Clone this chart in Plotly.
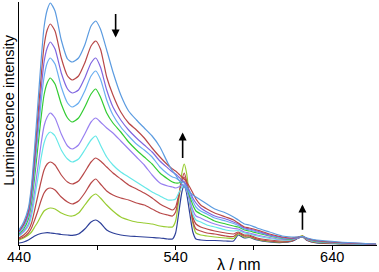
import plotly.graph_objects as go

wavelength = [440, 443, 446, 448, 450, 452, 454, 456, 458, 460, 463, 467, 471, 474, 478, 482, 486, 489,
              492, 496, 500, 505, 510, 515, 520, 525, 530, 535,
              538, 540, 542, 544, 545.5, 547, 549, 551, 553, 556, 560,
              565, 572, 577, 580, 584, 587, 592, 600, 608, 614, 618, 621, 624, 630, 645, 668]

s1 = [15, 23, 37, 60, 98, 140, 182, 218, 235, 242, 234, 205, 186, 183, 187, 200, 219, 224,
      216, 195, 173, 150, 134, 125, 117, 109, 98, 82,
      74, 70, 65, 61, 58, 56, 53, 50, 48, 45, 41,
      36, 32, 28, 25, 21, 20, 17, 13, 9, 8, 8, 8.5, 7, 5, 3, 1]
s2 = [14, 21, 34, 55, 89, 128, 166, 199, 215, 221, 214, 187, 169, 165, 169, 182, 199, 204,
      196, 168, 150, 133, 122, 115, 107, 97, 88, 80,
      76, 74, 71, 68, 66, 63, 58, 52, 46, 40, 36,
      32, 28, 25, 22, 18, 17, 15, 11, 8, 7, 8, 8.5, 6.5, 4.5, 2.5, 0.8]
s3 = [13, 20, 31, 51, 82, 118, 153, 183, 197, 203, 196, 172, 156, 152, 155, 167, 182, 187,
      178, 155, 138, 125, 115, 107, 100, 93, 84, 77,
      73, 71, 68, 65, 63, 60, 54, 47, 42, 37, 33,
      29, 26, 23, 21, 17, 16, 14, 10, 7.5, 6.5, 7.5, 8.5, 6.5, 4, 2.3, 0.8]
s4 = [12, 18, 29, 47, 76, 108, 141, 168, 182, 187, 181, 158, 142, 138, 142, 154, 169, 174,
      166, 145, 130, 118, 109, 101, 95, 88, 78, 71,
      68, 67, 65, 63, 62, 58, 51, 44, 38, 34, 31,
      27, 24, 21.5, 19.5, 16, 15, 13, 9.5, 7, 6.5, 7.5, 8.5, 6, 4, 2.2, 0.7]
s5 = [11, 16, 26, 42, 68, 97, 126, 150, 162, 167, 161, 141, 127, 123, 127, 138, 151, 156,
      148, 132, 122, 113, 103, 95, 88, 81, 72, 66,
      63, 62, 62, 63, 63, 58, 49, 40, 34, 31, 28,
      24, 21, 19, 18, 15, 14, 12, 9, 6.5, 6, 7.5, 8.5, 6, 3.5, 2, 0.7]
s6 = [10, 14, 21, 34, 54, 77, 100, 119, 128, 132, 127, 111, 99, 96, 100, 111, 123, 127,
      123, 117, 112, 104, 96, 88, 80, 70, 62, 59,
      58, 57, 58, 60, 60, 55, 45, 35, 29, 27, 24,
      21, 18, 16.5, 16, 13, 12, 10, 7.5, 5.5, 5.5, 7, 8.5, 5.5, 3.5, 1.8, 0.6]
s7 = [9, 13, 19, 29, 47, 66, 86, 102, 110, 113, 109, 95, 86, 83, 86, 95, 105, 109,
      100, 88, 80, 73, 68, 63, 58, 53, 49, 45,
      45, 46, 52, 58, 60, 55, 43, 31, 25, 23, 20,
      18, 15, 14, 14.5, 12, 11, 9, 6.5, 5, 5, 7, 8.5, 5.5, 3, 1.7, 0.6]
s8 = [7, 10, 15, 22, 35, 49, 63, 75, 81, 83, 80, 70, 63, 61, 64, 73, 83, 87,
      84, 78, 72, 66, 60, 56, 52, 47, 41, 37,
      35, 38, 50, 63, 68, 62, 45, 28, 21, 18, 16,
      14, 12, 11, 13, 10, 10, 7, 5, 4, 4.5, 7, 8.5, 5, 3, 1.5, 0.5]
s9 = [6, 8, 12, 17, 25, 34, 44, 52, 56, 57, 55, 48, 43, 41, 44, 52, 62, 66,
      61, 54, 50, 47, 45, 42, 40, 36, 32, 30,
      29, 33, 48, 65, 72, 64, 44, 24, 16, 14, 12,
      11, 9, 8.5, 12, 9, 9, 6, 4, 3, 4, 7, 9, 5, 2.5, 1.4, 0.5]
s10 = [5, 7, 10, 13, 18, 23, 29, 34, 36, 37, 36, 32, 29.5, 29, 32, 40, 48, 51,
       47, 40, 34, 28, 25, 23, 22, 21, 19, 18,
       18, 24, 45, 72, 81, 72, 46, 22, 12, 10, 9,
       8, 7, 6.5, 11, 8, 8, 5.5, 3.5, 3, 4, 7.5, 9.5, 5, 2.5, 1.3, 0.5]
s11 = [2, 3, 5, 7, 9, 10.5, 11.5, 12, 12.3, 12, 11.5, 10.5, 10, 9.7, 11, 16, 23, 25,
       22, 15, 12, 10, 9, 8.5, 8, 7.5, 7, 6,
       6, 12, 32, 53, 60, 52, 32, 13, 6, 5, 4.5,
       4.5, 4, 4, 10, 7, 7.5, 5, 3, 2.5, 3.5, 6.5, 8, 4.5, 2, 1.2, 0.5]

series = [s1, s2, s3, s4, s5, s6, s7, s8, s9, s10, s11]
colors = ["#5B9BE0", "#B84848", "#8066E0", "#6AAEF0", "#33CC33", "#9980F0",
          "#66E8E8", "#B84848", "#B84848", "#99CC33", "#2E4099"]

x_ticks = [440, 490, 540, 590, 640]
x_tick_labels = ["440", "", "540", "", "640"]

fig = go.Figure()
for ys, c in zip(series[::-1], colors[::-1]):
    fig.add_trace(go.Scatter(x=wavelength, y=ys, mode="lines",
                             line=dict(color=c, width=1.2, shape="spline", smoothing=0.6),
                             showlegend=False, hoverinfo="skip"))

arrow_style = dict(showarrow=True, arrowhead=2, arrowsize=1, arrowwidth=1.6,
                   arrowcolor="black", xref="x", yref="y", axref="x", ayref="y", text="")
fig.add_annotation(x=501.7, y=207.5, ax=501.7, ay=232.5, **arrow_style)
fig.add_annotation(x=544.5, y=112.5, ax=544.5, ay=85.5, **arrow_style)
fig.add_annotation(x=621, y=40.5, ax=621, ay=13.8, **arrow_style)

fig.add_annotation(text="λ / nm", xref="paper", yref="paper", x=0.615, y=-0.082,
                   showarrow=False, xanchor="center", yanchor="middle",
                   font=dict(family="Liberation Sans, Arial", size=16, color="black"))
fig.add_annotation(text="Luminescence intensity", xref="paper", yref="paper",
                   x=-0.028, y=0.557, textangle=-90, showarrow=False,
                   xanchor="center", yanchor="middle",
                   font=dict(family="Liberation Sans, Arial", size=14.5, color="black"))

fig.update_layout(
    width=379, height=272,
    margin=dict(l=19, r=2, t=2, b=27),
    paper_bgcolor="white", plot_bgcolor="white",
    font=dict(family="Liberation Sans, Arial", size=14, color="black"),
    xaxis=dict(range=[440, 668.6], tickvals=x_ticks, ticktext=x_tick_labels,
               showline=True, linecolor="black", linewidth=1.3,
               ticks="outside", ticklen=4, tickwidth=1.2, tickcolor="black",
               ticklabelstandoff=-6,
               showgrid=False, zeroline=False, tickfont=dict(size=14.5)),
    yaxis=dict(range=[0, 243], showline=True, linecolor="black", linewidth=1.3,
               showticklabels=False, ticks="", showgrid=False, zeroline=False),
)

fig.write_html("out.html", config={"displayModeBar": False},
               post_script="document.body.style.margin='0';document.body.style.overflow='hidden';")
